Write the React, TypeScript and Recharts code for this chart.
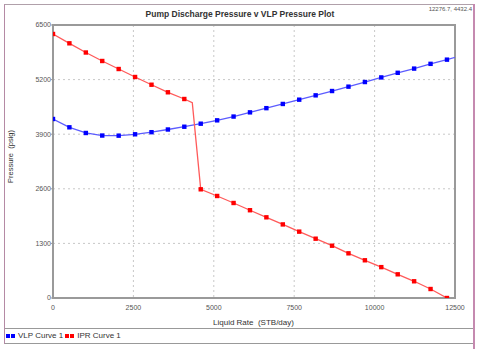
import React from 'react';
import { LineChart, Line, XAxis, YAxis, CartesianGrid, ReferenceArea } from 'recharts';

const VLP_RATES = [0, 510, 1021, 1531, 2042, 2552, 3063, 3573, 4083, 4594, 5104, 5615, 6125, 6635, 7146, 7656, 8167, 8677, 9188, 9698, 10208, 10719, 11229, 11740, 12250, 12760];
const VLP_PRESSURES = [4262, 4064, 3929, 3868, 3865, 3898, 3948, 4012, 4078, 4150, 4230, 4320, 4420, 4520, 4620, 4722, 4825, 4928, 5032, 5142, 5252, 5362, 5462, 5575, 5675, 5785];

const IPR_RATES = [0, 510, 1021, 1531, 2042, 2552, 3063, 3573, 4083, 4331, 4594, 5104, 5615, 6125, 6635, 7146, 7656, 8167, 8677, 9188, 9698, 10208, 10719, 11229, 11740, 12250];
const IPR_PRESSURES = [6286, 6064, 5845, 5643, 5452, 5262, 5078, 4898, 4738, 4650, 2588, 2429, 2262, 2090, 1921, 1752, 1580, 1412, 1245, 1064, 898, 735, 564, 398, 214, 0];
const IPR_KNEE_INDEX = 9;

const X_TICKS = [0, 2500, 5000, 7500, 10000, 12500];
const Y_TICKS = [0, 1300, 2600, 3900, 5200, 6500];

const TITLE = 'Pump Discharge Pressure v VLP Pressure Plot';
const X_LABEL = 'Liquid Rate  (STB/day)';
const Y_LABEL = 'Pressure  (psig)';
const CURSOR_TEXT = '12276.7, 4432.4';
const SERIES_NAMES = ['VLP Curve 1', 'IPR Curve 1'];

const vlpData = VLP_RATES.map((rate, i) => ({ rate, pressure: VLP_PRESSURES[i] }));
const iprData = IPR_RATES.map((rate, i) => ({ rate, pressure: IPR_PRESSURES[i] }));

const FONT = '"Liberation Sans", Arial, sans-serif';

const makeDot = (color: string, skipIndex: number) => (props: any) => {
  const { cx, cy, index } = props;
  if (cx == null || cy == null || index === skipIndex) return <g key={`d-${index}`} />;
  return <rect key={`d-${index}`} x={cx - 2.2} y={cy - 2.2} width={4.4} height={4.4} fill={color} />;
};

const LegendMark = ({ color }: { color: string }) => (
  <span style={{ display: 'inline-flex', gap: 1, marginRight: 3, verticalAlign: 'middle' }}>
    <span style={{ width: 4, height: 4, background: color, display: 'inline-block' }} />
    <span style={{ width: 4, height: 4, background: color, display: 'inline-block' }} />
  </span>
);

export default function App() {
  return (
    <div style={{ position: 'absolute', left: 0, top: 0, width: 480, height: 349, background: '#fff', fontFamily: FONT, overflow: 'hidden' }}>
      {/* outer frame */}
      <div style={{ position: 'absolute', left: 4, top: 4, width: 469, height: 339, borderLeft: '1.5px solid #b58aa5', borderTop: '1px solid #b0a0aa' }} />
      <div style={{ position: 'absolute', left: 473, top: 4, width: 1.5, height: 345, background: '#c58ab0' }} />
      <div style={{ position: 'absolute', left: 5, top: 328, width: 468, height: 1, background: '#999' }} />
      <div style={{ position: 'absolute', left: 5, top: 343, width: 468, height: 1, background: '#999' }} />

      <div style={{ position: 'absolute', left: 0, top: 0 }}>
        <LineChart width={480} height={349} data={vlpData} margin={{ top: 25, right: 25, bottom: 21, left: 13 }}>
          <CartesianGrid stroke="#c8c8c8" strokeDasharray="2 3" horizontalValues={Y_TICKS} verticalValues={X_TICKS} />
          <XAxis
            dataKey="rate"
            type="number"
            domain={[0, 12500]}
            ticks={X_TICKS}
            allowDataOverflow
            height={30}
            tickSize={0}
            tickMargin={7}
            axisLine={false}
            tick={{ fontSize: 7, fill: '#555', fontFamily: FONT }}
          />
          <YAxis
            dataKey="pressure"
            type="number"
            domain={[0, 6500]}
            ticks={Y_TICKS}
            allowDataOverflow
            width={40}
            tickSize={2}
            tickMargin={0}
            axisLine={false}
            tickLine={{ stroke: '#999' }}
            tick={{ fontSize: 7, fill: '#555', fontFamily: FONT }}
          />
          <ReferenceArea x1={0} x2={12500} y1={0} y2={6500} fill="none" stroke="#9a9a9a" strokeWidth={2} />
          <Line
            data={vlpData}
            dataKey="pressure"
            type="linear"
            stroke="#5c5cff"
            strokeWidth={1.3}
            dot={makeDot('#0000ff', -1)}
            isAnimationActive={false}
          />
          <Line
            data={iprData}
            dataKey="pressure"
            type="linear"
            stroke="#ff5a5a"
            strokeWidth={1.3}
            dot={makeDot('#ff0000', IPR_KNEE_INDEX)}
            isAnimationActive={false}
          />
        </LineChart>
      </div>

      <div style={{ position: 'absolute', left: 0, width: 480, top: 9, textAlign: 'center', fontSize: 8.5, fontWeight: 'bold', color: '#333' }}>
        <span style={{ position: 'relative', left: 0 }}>{TITLE}</span>
      </div>
      <div style={{ position: 'absolute', right: 8, top: 6, fontSize: 6, color: '#555' }}>{CURSOR_TEXT}</div>
      <div style={{ position: 'absolute', left: 213, width: 80, top: 318, textAlign: 'center', fontSize: 8, color: '#333', whiteSpace: 'pre' }}>{X_LABEL}</div>
      <div style={{ position: 'absolute', left: 10, top: 157, width: 0, height: 0 }}>
        <div style={{ position: 'absolute', left: -40, top: -5, width: 80, textAlign: 'center', fontSize: 7.5, color: '#333', transform: 'rotate(-90deg)', whiteSpace: 'pre' }}>{Y_LABEL}</div>
      </div>
      <div style={{ position: 'absolute', left: 6, top: 331, fontSize: 8, color: '#333', display: 'flex', alignItems: 'center', whiteSpace: 'pre' }}>
        <LegendMark color="#0000ff" />
        <span>{SERIES_NAMES[0]}</span>
        <span style={{ width: 2 }} />
        <LegendMark color="#ff0000" />
        <span>{SERIES_NAMES[1]}</span>
      </div>
    </div>
  );
}
